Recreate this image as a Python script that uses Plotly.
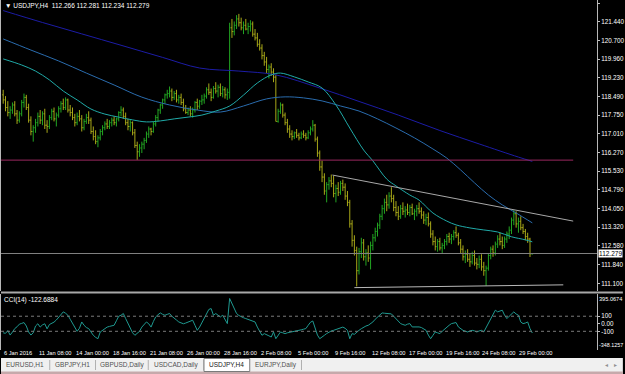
import plotly.graph_objects as go

# ---------------- data ----------------
opens = [118.55,118.35,118.05,117.85,117.95,118.15,117.80,117.55,117.80,118.25,118.45,118.05,117.55,117.10,117.25,117.45,117.70,117.55,117.80,117.35,
 117.30,117.65,117.90,117.60,117.75,118.00,118.20,118.05,118.35,117.95,117.85,117.65,117.45,117.70,117.60,117.25,117.50,117.65,117.55,117.10,
 116.90,116.70,116.85,117.10,117.25,117.40,117.30,117.45,117.55,117.45,117.60,117.85,117.95,117.70,117.45,117.30,117.45,117.05,116.55,116.30,
 116.45,116.60,116.75,117.00,117.20,117.10,117.40,117.65,117.95,118.15,118.35,118.55,118.60,118.70,118.45,118.60,118.35,118.45,118.25,118.00,
 117.85,117.95,117.80,117.95,118.25,118.10,118.30,118.35,118.50,118.75,118.65,118.45,118.80,118.70,118.85,118.60,118.75,118.55,118.65,121.20,
 121.05,121.30,121.55,121.40,121.20,121.30,121.15,121.25,121.35,120.95,120.80,120.55,120.40,120.10,119.85,119.55,119.65,119.45,119.25,117.50,
 117.90,118.15,117.75,117.45,117.20,117.00,116.90,117.05,116.95,116.85,117.00,116.95,116.85,117.05,117.20,117.35,116.80,116.25,115.70,115.30,
 114.75,115.00,115.15,115.05,114.65,114.85,114.70,115.05,114.90,114.55,114.30,113.45,112.80,112.40,111.60,112.35,112.70,112.15,112.30,112.10,
 112.60,112.90,113.15,113.40,113.75,114.05,114.30,114.20,114.55,114.45,114.10,113.90,113.75,114.05,113.95,114.00,113.90,114.10,113.85,113.95,
 114.05,113.95,113.80,113.60,113.70,113.45,113.05,112.75,112.55,112.75,112.50,112.60,112.75,112.95,112.85,112.95,113.10,113.00,112.70,112.45,
 112.15,112.25,112.05,111.95,112.20,111.90,111.85,112.05,111.75,111.60,111.70,112.20,112.45,112.30,112.65,112.85,112.75,112.60,112.85,113.05,
 113.20,113.60,113.85,113.45,113.55,113.30,113.15,112.95,112.85,112.266]
highs = [118.75,118.50,118.30,118.10,118.25,118.30,117.95,117.90,118.35,118.60,118.55,118.20,117.70,117.35,117.60,117.85,117.95,117.90,118.00,117.55,
 117.75,118.00,118.05,117.85,118.10,118.30,118.40,118.45,118.40,118.15,118.05,117.80,117.85,117.95,117.75,117.60,117.80,117.90,117.65,117.30,
 117.15,116.95,117.20,117.35,117.50,117.60,117.55,117.65,117.70,117.65,117.90,118.10,118.05,117.85,117.60,117.55,117.50,117.20,116.70,116.60,
 116.70,116.85,117.10,117.30,117.25,117.50,117.75,118.00,118.20,118.40,118.60,118.75,118.88,118.80,118.70,118.75,118.55,118.60,118.40,118.15,
 118.05,118.10,118.05,118.30,118.40,118.35,118.55,118.60,118.85,119.00,118.80,118.90,119.05,118.95,119.00,118.90,118.85,118.80,121.40,121.55,
 121.45,121.70,121.75,121.60,121.45,121.55,121.40,121.50,121.45,121.15,121.00,120.75,120.55,120.25,120.05,119.75,119.80,119.60,119.35,118.00,
 118.25,118.20,117.85,117.60,117.35,117.15,117.10,117.20,117.05,117.10,117.15,117.05,117.15,117.30,117.55,117.40,116.90,116.35,115.95,115.45,
 115.10,115.30,115.40,115.35,115.00,115.10,115.15,115.20,115.05,114.75,114.40,113.60,113.00,112.55,112.50,112.90,112.85,112.45,112.60,112.75,
 113.05,113.30,113.50,113.85,114.20,114.45,114.60,114.70,114.90,114.60,114.35,114.15,114.20,114.30,114.15,114.25,114.20,114.25,114.05,114.20,
 114.30,114.10,113.95,113.85,113.90,113.55,113.20,112.95,112.85,112.90,112.70,112.85,113.05,113.10,113.05,113.20,113.35,113.10,112.85,112.60,
 112.40,112.45,112.30,112.35,112.40,112.10,112.20,112.25,111.95,111.80,112.30,112.55,112.60,112.75,113.00,113.10,112.95,112.95,113.15,113.35,
 113.70,114.00,113.95,113.70,113.75,113.45,113.25,113.10,112.90,112.281]
lows = [118.20,117.90,117.70,117.60,117.80,117.70,117.40,117.45,117.70,118.05,117.95,117.45,116.95,116.70,117.05,117.30,117.40,117.35,117.20,117.05,
 117.20,117.55,117.50,117.30,117.65,117.85,117.95,117.95,117.85,117.70,117.55,117.30,117.35,117.50,117.10,117.15,117.40,117.40,117.00,116.75,
 116.60,116.48,116.75,116.95,117.15,117.20,117.20,117.30,117.35,117.30,117.50,117.70,117.60,117.35,117.15,117.10,116.95,116.45,115.98,116.10,
 116.25,116.40,116.65,116.85,116.95,117.05,117.30,117.50,117.80,118.00,118.20,118.40,118.45,118.30,118.35,118.25,118.20,118.15,117.90,117.80,
 117.75,117.70,117.65,117.85,117.95,118.00,118.15,118.20,118.40,118.55,118.30,118.40,118.60,118.45,118.50,118.45,118.40,118.35,118.40,120.80,
 120.90,121.15,121.25,121.10,120.95,121.10,120.95,121.05,120.85,120.70,120.45,120.30,119.95,119.70,119.40,119.20,119.30,119.05,117.50,117.45,
 117.80,117.65,117.35,117.05,116.85,116.75,116.80,116.85,116.75,116.80,116.85,116.75,116.80,116.95,117.10,116.70,116.10,115.55,115.10,114.60,
 114.30,114.80,114.90,114.50,114.30,114.55,114.60,114.75,114.40,114.15,113.30,112.55,112.20,110.98,111.45,112.10,112.00,111.80,111.95,111.65,
 112.40,112.75,112.95,113.25,113.60,113.85,113.95,114.05,114.30,113.95,113.75,113.60,113.65,113.80,113.70,113.80,113.75,113.80,113.60,113.75,
 113.85,113.65,113.45,113.40,113.35,112.90,112.60,112.40,112.35,112.40,112.30,112.45,112.60,112.70,112.65,112.80,112.90,112.60,112.30,112.00,
 111.90,111.95,111.75,111.85,111.80,111.65,111.70,111.60,111.40,111.00,111.60,112.05,112.15,112.20,112.50,112.60,112.45,112.50,112.70,112.85,
 113.05,113.40,113.30,113.10,113.20,113.05,112.80,112.70,112.14,112.234]
closes = [118.35,118.05,117.85,117.95,118.15,117.80,117.55,117.80,118.25,118.45,118.05,117.55,117.10,117.25,117.45,117.70,117.55,117.80,117.35,117.30,
 117.65,117.90,117.60,117.75,118.00,118.20,118.05,118.35,117.95,117.85,117.65,117.45,117.70,117.60,117.25,117.50,117.65,117.55,117.10,116.90,
 116.70,116.85,117.10,117.25,117.40,117.30,117.45,117.55,117.45,117.60,117.85,117.95,117.70,117.45,117.30,117.45,117.05,116.55,116.30,116.45,
 116.60,116.75,117.00,117.20,117.10,117.40,117.65,117.95,118.15,118.35,118.55,118.60,118.70,118.45,118.60,118.35,118.45,118.25,118.00,117.85,
 117.95,117.80,117.95,118.25,118.10,118.30,118.35,118.50,118.75,118.65,118.45,118.80,118.70,118.85,118.60,118.75,118.55,118.65,121.20,121.05,
 121.30,121.55,121.40,121.20,121.30,121.15,121.25,121.35,120.95,120.80,120.55,120.40,120.10,119.85,119.55,119.65,119.45,119.25,117.50,117.90,
 118.15,117.75,117.45,117.20,117.00,116.90,117.05,116.95,116.85,117.00,116.95,116.85,117.05,117.20,117.35,116.80,116.25,115.70,115.30,114.75,
 115.00,115.15,115.05,114.65,114.85,114.70,115.05,114.90,114.55,114.30,113.45,112.80,112.40,111.60,112.35,112.70,112.15,112.30,112.10,112.60,
 112.90,113.15,113.40,113.75,114.05,114.30,114.20,114.55,114.45,114.10,113.90,113.75,114.05,113.95,114.00,113.90,114.10,113.85,113.95,114.05,
 113.95,113.80,113.60,113.70,113.45,113.05,112.75,112.55,112.75,112.50,112.60,112.75,112.95,112.85,112.95,113.10,113.00,112.70,112.45,112.15,
 112.25,112.05,111.95,112.20,111.90,111.85,112.05,111.75,111.60,111.70,112.20,112.45,112.30,112.65,112.85,112.75,112.60,112.85,113.05,113.20,
 113.60,113.85,113.45,113.55,113.30,113.15,112.95,112.85,112.27,112.279]
cci = [-120,-127,-90,-150,-110,-64,-40,-5,5,16,-30,-109,-150,-120,-30,0,-44,-15,0,-67,
 -10,5,22,50,91,120,158,140,113,60,2,-50,-100,-60,24,-20,-50,-64,-110,-153,
 -180,-198,-109,-85,-60,-44,-35,-25,-20,40,100,113,136,69,10,-44,-120,-153,-131,-100,
 -44,-10,24,0,-44,30,91,120,144,125,113,125,136,100,69,50,24,10,0,10,
 24,40,47,-20,-87,-44,20,80,136,190,202,113,136,110,91,113,50,2,336,269,
 200,136,110,91,80,69,60,47,35,24,-44,-100,-153,-131,-150,-160,-176,-109,-198,-160,
 -109,-120,-131,-120,-115,-109,-100,-95,-87,-80,-72,-64,-20,20,37,-64,-150,-198,-180,-153,
 -130,-109,-95,-87,-75,-64,-55,-44,-60,-87,-198,-131,-140,-110,-87,-65,-42,-30,-20,0,
 24,60,91,120,144,140,136,133,131,100,69,30,2,-10,-20,-5,2,-42,-42,-40,
 -42,-50,-64,-87,-150,-198,-153,-109,-120,-131,-100,-70,-42,-20,2,10,16,-42,-70,-87,
 -98,-109,-95,-87,-95,-109,-95,-87,-109,-50,2,60,113,180,158,170,180,113,69,100,
 136,158,130,113,24,2,10,24,-64,-122.6884]
bar_idx = list(range(len(closes)))

ma_slow_idx = [0, 17, 34, 51, 69, 85, 102, 118, 137, 154, 171, 189, 206, 223, 229]
ma_slow = [121.88, 121.41, 120.96, 120.51, 120.03, 119.61, 119.49, 119.34, 118.82, 118.29, 117.75, 117.14, 116.61, 116.09, 115.92]
ma_mid_idx = [0, 12, 24, 36, 48, 60, 72, 84, 94, 104, 114, 122, 130, 138, 146, 154, 162, 170, 178, 186, 192, 198, 204, 210, 216, 222, 229]
ma_mid = [120.76, 120.32, 119.89, 119.41, 118.94, 118.46, 118.15, 117.95, 117.87, 118.11, 118.39, 118.47, 118.43, 118.31, 118.11, 117.91,
          117.60, 117.24, 116.85, 116.41, 116.05, 115.58, 115.07, 114.59, 114.20, 113.88, 113.49]
ma_fast_idx = [0, 8, 14, 20, 26, 32, 38, 44, 50, 56, 62, 68, 74, 80, 86, 92, 98, 104, 110, 116, 120, 126, 132, 138, 144, 150, 156, 160,
               166, 170, 176, 180, 186, 192, 196, 202, 208, 214, 220, 226, 229]
ma_fast = [119.97, 119.73, 119.49, 119.14, 118.70, 118.35, 117.99, 117.79, 117.67, 117.56, 117.48, 117.52, 117.60, 117.67, 117.75, 117.91,
           118.11, 118.54, 119.02, 119.34, 119.41, 119.26, 119.06, 118.82, 118.15, 117.24, 116.37, 115.94, 115.22, 114.95, 114.59, 114.39,
           113.88, 113.56, 113.41, 113.29, 113.21, 113.13, 112.94, 112.82, 112.74]

level_idx = [-1, 246.7]
level_price = [115.97, 115.97]
resist_idx = [142.5, 246.7]
resist_price = [115.38, 113.56]
support_idx = [152, 242.4]
support_price = [110.93, 111.04]

price_ticks = [122.180, 121.440, 120.700, 119.960, 119.230, 118.490, 117.750, 117.010,
               116.270, 115.530, 114.790, 114.050, 113.320, 112.580, 111.840, 111.100]
cci_ticks = [100, 0, -100]
cci_tick_text = ["100", "0.00", "-100"]
cci_max, cci_min = 395.0674, -348.1257

time_label_idx = [0, 15, 31, 47, 63, 79, 95, 111, 127, 143, 159, 175, 191, 207, 223]
time_labels = ["6 Jan 2016", "11 Jan 08:00", "14 Jan 00:00", "18 Jan 16:00", "21 Jan 08:00", "26 Jan 00:00",
               "28 Jan 16:00", "2 Feb 08:00", "5 Feb 00:00", "9 Feb 16:00", "12 Feb 08:00", "17 Feb 00:00",
               "19 Feb 16:00", "24 Feb 08:00", "29 Feb 00:00"]
tabs = ["EURUSD,H1", "GBPJPY,H1", "GBPUSD,Daily", "USDCAD,Daily", "USDJPY,H4", "EURJPY,Daily"]
active_tab = "USDJPY,H4"

# ---------------- layout helpers ----------------
W, H = 625, 374
ML, MR, MT, MB = 0, 26, 0, 24
PW, PH = W - ML - MR, H - MT - MB
def px(xp):  # pixel x -> paper
    return (xp - ML) / PW
def py(yp):  # pixel y -> paper
    return (MT + PH - yp) / PH

FONT = "Liberation Sans"
UP, DOWN = "#22a522", "#a8a818"

fig = go.Figure()
fig.add_trace(go.Ohlc(x=bar_idx, open=opens, high=highs, low=lows, close=closes,
                      increasing=dict(line=dict(color=UP, width=1)),
                      decreasing=dict(line=dict(color=DOWN, width=1)),
                      tickwidth=0.45, xaxis="x", yaxis="y", hoverinfo="skip"))
fig.add_trace(go.Scatter(x=ma_slow_idx, y=ma_slow, mode="lines", line=dict(color="#1c1ca6", width=1, shape="spline"),
                         xaxis="x", yaxis="y", hoverinfo="skip"))
fig.add_trace(go.Scatter(x=ma_mid_idx, y=ma_mid, mode="lines", line=dict(color="#2a6cae", width=1, shape="spline"),
                         xaxis="x", yaxis="y", hoverinfo="skip"))
fig.add_trace(go.Scatter(x=ma_fast_idx, y=ma_fast, mode="lines", line=dict(color="#20aaa8", width=1, shape="spline"),
                         xaxis="x", yaxis="y", hoverinfo="skip"))
fig.add_trace(go.Scatter(x=level_idx, y=level_price, mode="lines", line=dict(color="#9a2860", width=1),
                         xaxis="x", yaxis="y", hoverinfo="skip"))
fig.add_trace(go.Scatter(x=resist_idx, y=resist_price, mode="lines", line=dict(color="#a8a8a8", width=1),
                         xaxis="x", yaxis="y", hoverinfo="skip"))
fig.add_trace(go.Scatter(x=support_idx, y=support_price, mode="lines", line=dict(color="#b8b8b8", width=1),
                         xaxis="x", yaxis="y", hoverinfo="skip"))
fig.add_trace(go.Scatter(x=bar_idx, y=cci, mode="lines", line=dict(color="#1f9990", width=1),
                         xaxis="x2", yaxis="y2", hoverinfo="skip"))

last = closes[-1]
shapes = [
    dict(type="line", xref="paper", yref="y", x0=0, x1=1, y0=last, y1=last, line=dict(color="#808080", width=1)),
    dict(type="line", xref="paper", yref="y2", x0=0, x1=1, y0=100, y1=100, line=dict(color="#7a7a7a", width=1, dash="dot")),
    dict(type="line", xref="paper", yref="y2", x0=0, x1=1, y0=-100, y1=-100, line=dict(color="#7a7a7a", width=1, dash="dot")),
    # separator between panels
    dict(type="line", xref="paper", yref="paper", x0=0, x1=px(W), y0=py(292.5), y1=py(292.5), line=dict(color="#a8a8a8", width=2)),
    # tab bar
    dict(type="rect", xref="paper", yref="paper", x0=px(0), x1=px(W), y0=py(374), y1=py(358), fillcolor="#f0f0f0", line=dict(width=0), layer="above"),
    dict(type="rect", xref="paper", yref="paper", x0=px(0), x1=px(W), y0=py(374), y1=py(371.5), fillcolor="#c6a9ab", line=dict(width=0), layer="above"),
]
tab_edges = [0, 49, 95, 148, 204, 250, 302]
for i, t in enumerate(tabs):
    x0, x1 = tab_edges[i], tab_edges[i + 1]
    if t == active_tab:
        shapes.append(dict(type="rect", xref="paper", yref="paper", x0=px(x0), x1=px(x1), y0=py(371.5), y1=py(358.5),
                           fillcolor="#ffffff", line=dict(color="#7a7a7a", width=1), layer="above"))
    else:
        shapes.append(dict(type="line", xref="paper", yref="paper", x0=px(x1), x1=px(x1), y0=py(370), y1=py(360),
                           line=dict(color="#b0b0b0", width=1), layer="above"))

ann = []
ann.append(dict(xref="paper", yref="paper", x=px(2), y=py(0), xanchor="left", yanchor="top", showarrow=False,
                text="▼ USDJPY,H4  %.3f %.3f %.3f %.3f" % (opens[-1], highs[-1], lows[-1], closes[-1]),
                font=dict(family=FONT, size=6.5, color="#ffffff")))
ann.append(dict(xref="paper", yref="paper", x=px(1), y=py(294), xanchor="left", yanchor="top", showarrow=False,
                text="CCI(14) %.4f" % cci[-1], font=dict(family=FONT, size=6.5, color="#ffffff")))
ann.append(dict(xref="paper", yref="paper", x=1, y=py(294), xanchor="left", yanchor="top", showarrow=False, xshift=0,
                text="%.4f" % cci_max, font=dict(family=FONT, size=5.6, color="#ffffff")))
ann.append(dict(xref="paper", yref="paper", x=1, y=py(345), xanchor="left", yanchor="middle", showarrow=False, xshift=0,
                text="%.4f" % cci_min, font=dict(family=FONT, size=5.4, color="#ffffff")))
ann.append(dict(xref="paper", yref="y", x=1, y=last, xanchor="left", yanchor="middle", showarrow=False, xshift=1,
                text="%.3f" % last, bgcolor="#ffffff", borderpad=0, font=dict(family=FONT, size=6.5, color="#000000")))
for xi, t in zip(time_label_idx, time_labels):
    ann.append(dict(xref="x2", yref="paper", x=xi, y=py(353), xanchor="left", yanchor="middle", showarrow=False,
                    xshift=-1, text=t, font=dict(family=FONT, size=5.7, color="#ffffff")))
for i, t in enumerate(tabs):
    x0, x1 = tab_edges[i], tab_edges[i + 1]
    ann.append(dict(xref="paper", yref="paper", x=px((x0 + x1) / 2), y=py(364.5), xanchor="center", yanchor="middle",
                    showarrow=False, text=t, font=dict(family=FONT, size=6.5, color="#202020" if t == active_tab else "#505050")))
ann.append(dict(xref="paper", yref="paper", x=px(609), y=py(364.5), xanchor="center", yanchor="middle", showarrow=False,
                text="◂", font=dict(family=FONT, size=6, color="#909090")))
ann.append(dict(xref="paper", yref="paper", x=px(618), y=py(364.5), xanchor="center", yanchor="middle", showarrow=False,
                text="▸", font=dict(family=FONT, size=6, color="#909090")))

xr = [-0.95, 257.0]
fig.update_layout(
    width=W, height=H, autosize=False,
    margin=dict(l=ML, r=MR, t=MT, b=MB, pad=0),
    paper_bgcolor="#000000", plot_bgcolor="#000000",
    showlegend=False,
    xaxis=dict(domain=[0, 1], range=xr, anchor="y", showticklabels=False, showgrid=False, zeroline=False,
               rangeslider=dict(visible=False), showline=False, fixedrange=True),
    xaxis2=dict(domain=[0, 1], range=xr, anchor="y2", matches="x", showticklabels=False, showgrid=False, zeroline=False,
                ticks="", showline=False, rangeslider=dict(visible=False)),
    yaxis=dict(domain=[py(291), 1], range=[110.797, 122.299], anchor="x", side="right",
               tickvals=price_ticks, ticktext=["%.3f" % v for v in price_ticks],
               ticks="outside", ticklen=2, tickcolor="#c0c0c0", showgrid=False, zeroline=False,
               showline=True, linecolor="#b8b8b8", linewidth=1, mirror=True,
               tickfont=dict(family=FONT, size=6.3, color="#ffffff")),
    yaxis2=dict(domain=[0, py(294)], range=[cci_min, cci_max], anchor="x2", side="right",
                tickvals=cci_ticks, ticktext=cci_tick_text,
                ticks="outside", ticklen=2, tickcolor="#c0c0c0", showgrid=False, zeroline=False,
                showline=True, linecolor="#b8b8b8", linewidth=1, mirror=True,
                tickfont=dict(family=FONT, size=6.3, color="#ffffff")),
    shapes=shapes, annotations=ann,
)
fig.write_html("out.html")
